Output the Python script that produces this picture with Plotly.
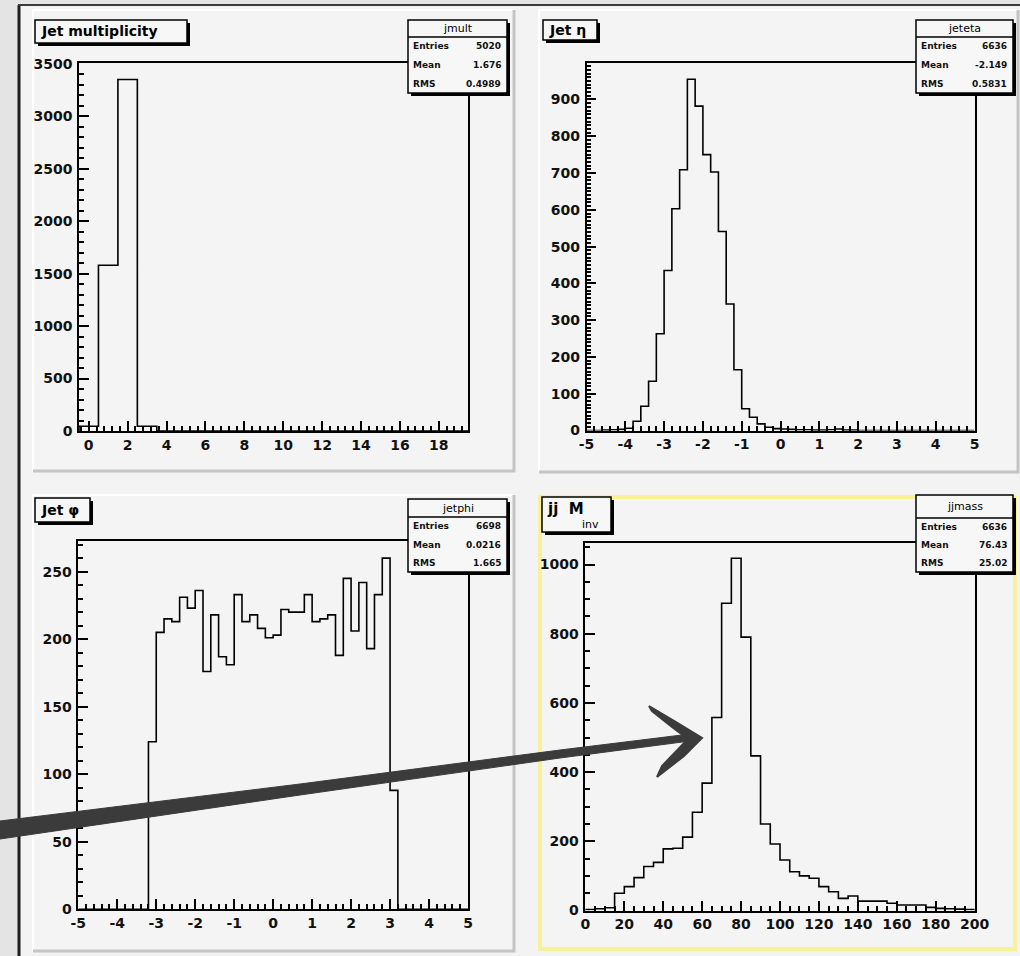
import plotly.graph_objects as go

W, H = 1020, 956

# ---------------- data ----------------
jmult_lo, jmult_w = -0.5, 1.0
jmult_vals = [45, 1580, 3350, 45, 0, 0, 0, 0, 0, 0, 0, 0, 0, 0, 0, 0, 0, 0, 0, 0]

jeteta_lo, jeteta_w = -5.0, 0.2
jeteta_vals = [0, 0, 1, 2, 3, 6, 25, 66, 134, 263,
               435, 603, 709, 955, 882, 750, 703, 541, 344, 165,
               59, 36, 18, 9, 5, 4, 3, 2, 2, 1,
               1, 2, 4, 1, 1, 0, 0, 0, 0, 0,
               0, 0, 0, 0, 0, 0, 0, 0, 0, 0]

jetphi_lo, jetphi_w = -5.0, 0.2
jetphi_vals = [0, 0, 0, 0, 0, 0, 0, 0, 0,
               124, 205, 215, 213, 231, 223, 236, 176, 218, 187,
               181, 233, 213, 218, 208, 201, 203, 222, 220, 220,
               233, 213, 215, 218, 188, 245, 206, 242, 193, 233,
               260, 88,
               0, 0, 0, 0, 0, 0, 0, 0, 0]

jjmass_lo, jjmass_w = 0.0, 5.0
jjmass_vals = [3, 5, 8, 50, 69, 95, 127, 139, 178, 180,
               212, 284, 368, 558, 888, 1018, 790, 447, 250, 192,
               146, 112, 100, 93, 69, 54, 35, 42, 27, 27,
               27, 21, 16, 16, 16, 9, 6, 5, 4, 3]

titles = ["Jet multiplicity", "Jet η", "Jet φ", "jj M<sub>inv</sub>"]
stat_names = ["jmult", "jeteta", "jetphi", "jjmass"]
stat_entries = ["5020", "6636", "6698", "6636"]
stat_means = ["1.676", "-2.149", "0.0216", "76.43"]
stat_rms = ["0.4989", "0.5831", "1.665", "25.02"]

x_ticks = [list(range(0, 20, 2)), list(range(-5, 6)), list(range(-5, 6)), list(range(0, 201, 20))]
y_ticks = [list(range(0, 3501, 500)), list(range(0, 901, 100)), list(range(0, 251, 50)), list(range(0, 1001, 200))]
x_ranges = [[-0.5, 19.5], [-5, 5], [-5, 5], [0, 200]]
y_ranges = [[0, 3508], [0, 1000], [0, 272.7], [0, 1063]]
x_minor = [0.4, 0.2, 0.2, 5]
y_minor = [100, 10, 10, 50]

# ---------------- geometry (pixels) ----------------
def px(x):
    return x / W

def py(y):
    return 1 - y / H

plot_boxes = [(79, 468, 63, 431), (586.5, 974.5, 62.7, 430.5),
              (78.3, 468, 541, 909.2), (585.4, 974.6, 542.7, 910.5)]
pads = [(33, 514, 10, 471), (539, 1018, 10, 472), (33, 514, 495, 951), (538, 1017, 495, 951)]
title_boxes = [(35, 187, 20, 43), (543, 597, 20, 40), (35, 90, 498, 522), (542, 611, 497, 532)]
stat_boxes = [(408, 507, 20, 93, 37), (916, 1013, 20, 93, 37), (408, 507, 499, 572, 517), (916, 1013, 495, 572, 518)]

fig = go.Figure()
shapes = []
annots = []

# canvas
shapes.append(dict(type="rect", xref="paper", yref="paper", x0=px(19), x1=px(1025), y0=py(960), y1=py(6),
                   fillcolor="#f3f3f3", line=dict(width=0), layer="below"))
shapes.append(dict(type="line", xref="paper", yref="paper", x0=px(19), x1=px(19), y0=py(960), y1=py(5),
                   line=dict(color="#1e1e1e", width=3), layer="below"))
shapes.append(dict(type="line", xref="paper", yref="paper", x0=px(18), x1=px(1025), y0=py(5), y1=py(5),
                   line=dict(color="#3a3a3a", width=2), layer="below"))

for i, (x0, x1, y0, y1) in enumerate(pads):
    shapes.append(dict(type="rect", xref="paper", yref="paper", x0=px(x0), x1=px(x1), y0=py(y1), y1=py(y0),
                       fillcolor="#f4f4f4", line=dict(width=0), layer="below"))
    if i == 3:
        shapes.append(dict(type="rect", xref="paper", yref="paper", x0=px(x0 + 2), x1=px(x1 - 2),
                           y0=py(y1 - 2), y1=py(y0 + 2),
                           fillcolor="rgba(0,0,0,0)", line=dict(color="#f7f19a", width=4), layer="below"))
    else:
        shapes.append(dict(type="path", xref="paper", yref="paper",
                           path=f"M {px(x0)},{py(y1)} L {px(x0)},{py(y0)} L {px(x1)},{py(y0)}",
                           line=dict(color="#ffffff", width=2), layer="below"))
        shapes.append(dict(type="path", xref="paper", yref="paper",
                           path=f"M {px(x0)},{py(y1)} L {px(x1)},{py(y1)} L {px(x1)},{py(y0)}",
                           line=dict(color="#c4c4c4", width=3), layer="below"))

datasets = [(jmult_lo, jmult_w, jmult_vals), (jeteta_lo, jeteta_w, jeteta_vals),
            (jetphi_lo, jetphi_w, jetphi_vals), (jjmass_lo, jjmass_w, jjmass_vals)]

tick_font = dict(family="DejaVu Sans", size=14, color="#111111", weight="bold")

def fmt(v):
    return str(v).replace("−", "-")

for i, (lo, w, vals) in enumerate(datasets):
    n = len(vals)
    xs = [lo] + [lo + k * w for k in range(n)] + [lo + n * w]
    ys = [0] + list(vals) + [0]
    ax = "" if i == 0 else str(i + 1)
    fig.add_trace(go.Scatter(x=xs, y=ys, mode="lines", line=dict(color="black", width=1.6, shape="hv"),
                             xaxis="x" + ax, yaxis="y" + ax, showlegend=False, hoverinfo="skip"))
    bx0, bx1, by0, by1 = plot_boxes[i]
    xa = dict(domain=[px(bx0), px(bx1)], range=x_ranges[i], anchor="y" + ax, automargin=False,
              showline=True, mirror=True, linecolor="black", linewidth=1.6,
              showgrid=False, zeroline=False, ticks="inside", ticklen=10, tickwidth=1.5, tickcolor="black",
              tickmode="array", tickvals=x_ticks[i], ticktext=[fmt(v) for v in x_ticks[i]],
              tickfont=tick_font, ticklabelstandoff=0,
              minor=dict(ticks="inside", ticklen=5, tickwidth=1.5, tickcolor="black",
                         dtick=x_minor[i], tick0=0, showgrid=False))
    ya = dict(domain=[py(by1), py(by0)], range=y_ranges[i], anchor="x" + ax, automargin=False,
              showline=True, mirror=True, linecolor="black", linewidth=1.6,
              showgrid=False, zeroline=False, ticks="inside", ticklen=10, tickwidth=1.5, tickcolor="black",
              tickmode="array", tickvals=y_ticks[i], ticktext=[fmt(v) for v in y_ticks[i]],
              tickfont=tick_font, ticklabelstandoff=2,
              minor=dict(ticks="inside", ticklen=5, tickwidth=1.5, tickcolor="black",
                         dtick=y_minor[i], tick0=0, showgrid=False))
    fig.update_layout(**{"xaxis" + ax: xa, "yaxis" + ax: ya})

# title boxes
for i, (x0, x1, y0, y1) in enumerate(title_boxes):
    shapes.append(dict(type="rect", xref="paper", yref="paper", x0=px(x0 + 3), x1=px(x1 + 3),
                       y0=py(y1 + 3), y1=py(y0 + 3), fillcolor="black", line=dict(width=0)))
    shapes.append(dict(type="rect", xref="paper", yref="paper", x0=px(x0), x1=px(x1),
                       y0=py(y1), y1=py(y0), fillcolor="#f7f7f7", line=dict(color="black", width=1.5)))
    if i == 3:
        annots.append(dict(xref="paper", yref="paper", x=px(x0 + 3), y=py(y0 + 1), xanchor="left", yanchor="top",
                           text="<b>jj  M</b>", showarrow=False,
                           font=dict(family="DejaVu Sans", size=15, color="black")))
        annots.append(dict(xref="paper", yref="paper", x=px(x0 + 38), y=py(y1 + 1), xanchor="left", yanchor="bottom",
                           text="inv", showarrow=False,
                           font=dict(family="DejaVu Sans", size=11, color="black")))
    else:
        annots.append(dict(xref="paper", yref="paper", x=px(x0 + 4), y=py((y0 + y1) / 2), xanchor="left",
                           yanchor="middle", text="<b>" + titles[i] + "</b>", showarrow=False,
                           font=dict(family="DejaVu Sans", size=14, color="black")))

# stats boxes
for i, (x0, x1, y0, y1, yd) in enumerate(stat_boxes):
    shapes.append(dict(type="rect", xref="paper", yref="paper", x0=px(x0 + 3), x1=px(x1 + 3),
                       y0=py(y1 + 3), y1=py(y0 + 3), fillcolor="black", line=dict(width=0)))
    shapes.append(dict(type="rect", xref="paper", yref="paper", x0=px(x0), x1=px(x1),
                       y0=py(y1), y1=py(y0), fillcolor="#f7f7f7", line=dict(color="black", width=1.5)))
    shapes.append(dict(type="line", xref="paper", yref="paper", x0=px(x0), x1=px(x1),
                       y0=py(yd), y1=py(yd), line=dict(color="black", width=1.5)))
    annots.append(dict(xref="paper", yref="paper", x=px((x0 + x1) / 2), y=py((y0 + yd) / 2),
                       xanchor="center", yanchor="middle", text=stat_names[i], showarrow=False,
                       font=dict(family="DejaVu Sans", size=11, color="black")))
    rows = [("Entries", stat_entries[i]), ("Mean", stat_means[i]), ("RMS", stat_rms[i])]
    rh = (y1 - yd) / 3
    for r, (lab, val) in enumerate(rows):
        yc = yd + rh * (r + 0.5)
        annots.append(dict(xref="paper", yref="paper", x=px(x0 + 3), y=py(yc), xanchor="left", yanchor="middle",
                           text="<b>" + lab + "</b>", showarrow=False,
                           font=dict(family="DejaVu Sans", size=9, color="#111111")))
        annots.append(dict(xref="paper", yref="paper", x=px(x1 - 4), y=py(yc), xanchor="right", yanchor="middle",
                           text="<b>" + val + "</b>", showarrow=False,
                           font=dict(family="DejaVu Sans", size=9, color="#111111")))

# hand-drawn arrow overlay
arrow_shaft = [(0, 821), (0, 839), (300, 795), (560, 758), (690, 741), (690, 734), (560, 750), (300, 784)]
p = "M " + " L ".join(f"{px(x)},{py(y)}" for x, y in arrow_shaft) + " Z"
shapes.append(dict(type="path", xref="paper", yref="paper", path=p, fillcolor="#3b3b3b",
                   line=dict(color="#3b3b3b", width=1)))
arrow_head = [(649, 706), (676, 722), (702, 738), (684, 756), (657, 777), (662, 766), (688, 739), (672, 727), (652, 711)]
p = "M " + " L ".join(f"{px(x)},{py(y)}" for x, y in arrow_head) + " Z"
shapes.append(dict(type="path", xref="paper", yref="paper", path=p, fillcolor="#3b3b3b",
                   line=dict(color="#3b3b3b", width=2)))

fig.update_layout(template="none", width=W, height=H, margin=dict(l=0, r=0, t=0, b=0, pad=0, autoexpand=False),
                  paper_bgcolor="#e4e4e4", plot_bgcolor="rgba(0,0,0,0)",
                  shapes=shapes, annotations=annots, showlegend=False)

fig.write_html("out.html", config=dict(displayModeBar=False),
               post_script="document.body.style.margin='0';document.body.style.padding='0';"
                           "document.body.style.overflow='hidden';"
                           "document.documentElement.style.overflow='hidden';")
